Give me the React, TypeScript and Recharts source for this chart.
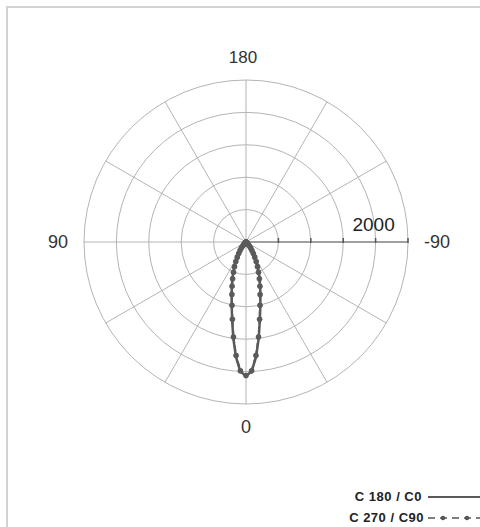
import React from 'react'
import { RadarChart, Radar, PolarGrid, PolarAngleAxis, PolarRadiusAxis, Legend } from 'recharts'

// Polar luminous intensity curve (cd), gamma in degrees, negative gamma on the right
const gammaAngles = [
  -60, -55, -50, -47.5, -45, -42.5, -40, -37.5, -35, -32.5, -30, -27.5, -25, -22.5, -20, -17.5, -15, -12.5, -10, -7.5, -5, -2.5,
  0, 2.5, 5, 7.5, 10, 12.5, 15, 17.5, 20, 22.5, 25, 27.5, 30, 32.5, 35, 37.5, 40, 42.5, 45, 47.5, 50, 55, 60,
]
const c180c0 = [
  0, 5, 12, 25, 40, 60, 90, 125, 170, 220, 280, 350, 430, 520, 620, 730, 860, 1020, 1230, 1500, 1780, 2000,
  2070, 2000, 1780, 1500, 1230, 1020, 860, 730, 620, 520, 430, 350, 280, 220, 170, 125, 90, 60, 40, 25, 12, 5, 0,
]
const c270c90 = [
  0, 4, 11, 22, 36, 56, 85, 118, 160, 210, 270, 340, 420, 505, 605, 715, 840, 1000, 1210, 1480, 1760, 1990,
  2060, 1990, 1760, 1480, 1210, 1000, 840, 715, 605, 505, 420, 340, 270, 210, 160, 118, 85, 56, 36, 22, 11, 4, 0,
]

const angleLabels = [180, -180, 90, 0, -90]
const radiusTicks = [0, 500, 1000, 1500, 2000, 2500]
const labelledRadius = 2000
const spokeAngles = [0, 30, 60, 90, 120, 150, 180, 210, 240, 270, 300, 330]

const seriesNames = ['C 180 / C0', 'C 270 / C90']

const data = gammaAngles.map((g, i) => ({ gamma: g, a: c180c0[i], b: c270c90[i] }))

const CURVE = '#5a5a5a'
const GRID = '#b4b4b4'
const FONT = "'Liberation Sans', Arial, sans-serif"

function AngleTick(props: any) {
  const { x, y, payload } = props
  const v = payload.value
  if (!angleLabels.includes(v)) return null
  const a = (payload.coordinate * Math.PI) / 180
  const cos = Math.cos(a)
  const horizontal = Math.abs(cos) > 0.5
  const k = horizontal ? 8 : 15
  const anchor = !horizontal ? 'middle' : cos > 0 ? 'start' : 'end'
  return (
    <text
      x={x + Math.cos(a) * k - (Math.abs(v) === 180 ? 3 : 0)}
      y={y - Math.sin(a) * k}
      textAnchor={anchor}
      dominantBaseline="central"
      fontSize={Math.abs(v) === 180 ? 17 : 18}
      fontFamily={FONT}
      fill="#333"
    >
      {Math.abs(v) === 180 ? 180 : v}
    </text>
  )
}

function RadiusTick(props: any) {
  const { x, y, payload } = props
  if (payload.value === 0) return null
  return (
    <g>
      <line x1={x} y1={y - 4} x2={x} y2={y + 1} stroke="#555" strokeWidth={1.5} />
      {payload.value === labelledRadius && (
        <text x={x - 2} y={y - 18} textAnchor="middle" dominantBaseline="central" fontSize={19} fontFamily={FONT} fill="#222">
          {payload.value}
        </text>
      )}
    </g>
  )
}

function LegendContent() {
  return (
    <div style={styles.legend}>
      <div style={styles.legendRow}>
        <span>{seriesNames[0]}</span>
        <svg width={60} height={10} style={{ marginLeft: 6 }}>
          <line x1={0} y1={5} x2={60} y2={5} stroke="#222" strokeWidth={1.5} />
        </svg>
      </div>
      <div style={styles.legendRow}>
        <span>{seriesNames[1]}</span>
        <svg width={60} height={10} style={{ marginLeft: 4 }}>
          <line x1={0} y1={5} x2={60} y2={5} stroke="#555" strokeWidth={1.5} strokeDasharray="7 5" />
          <circle cx={15} cy={5} r={2.2} fill="#555" />
          <circle cx={39} cy={5} r={2.2} fill="#555" />
        </svg>
      </div>
    </div>
  )
}

export default function App() {
  return (
    <div style={styles.frame}>
      <RadarChart width={472} height={519} data={data} cx={238} cy={234} outerRadius={162} startAngle={90} endAngle={-270}>
        <PolarGrid gridType="circle" polarAngles={spokeAngles} stroke={GRID} strokeWidth={1} />
        <PolarAngleAxis
          dataKey="gamma"
          type="number"
          domain={[-180, 180]}
          tickCount={5}
          axisLine={false}
          tickLine={false}
          tick={<AngleTick />}
        />
        <PolarRadiusAxis
          angle={0}
          domain={[0, 2500]}
          ticks={radiusTicks as any}
          tickCount={6}
          axisLine={{ stroke: '#8c8c8c', strokeWidth: 1.5 }}
          tick={<RadiusTick />}
        />
        <Radar
          name={seriesNames[0]}
          dataKey="a"
          stroke={CURVE}
          strokeWidth={2.5}
          fill="none"
          fillOpacity={0}
          isAnimationActive={false}
        />
        <Radar
          name={seriesNames[1]}
          dataKey="b"
          stroke={CURVE}
          strokeWidth={2}
          strokeDasharray="5 3"
          fill="none"
          fillOpacity={0}
          dot={{ r: 2.8, fill: CURVE, stroke: 'none', fillOpacity: 1 }}
          isAnimationActive={false}
        />
        <Legend content={<LegendContent />} wrapperStyle={{ left: 310, top: 478, width: 170 }} />
      </RadarChart>
    </div>
  )
}

const styles = {
  frame: {
    position: 'fixed' as const,
    top: 6,
    left: 6,
    width: 474,
    height: 521,
    boxSizing: 'border-box' as const,
    borderTop: '2px solid #d2d2d2',
    borderLeft: '2px solid #d2d2d2',
    background: '#fff',
    overflow: 'hidden',
  },
  legend: {
    fontFamily: FONT,
    fontWeight: 700,
    fontSize: 13,
    letterSpacing: 0.5,
    color: '#222',
    lineHeight: '21px',
  },
  legendRow: {
    display: 'flex',
    justifyContent: 'flex-end',
    alignItems: 'center',
  },
} as const
